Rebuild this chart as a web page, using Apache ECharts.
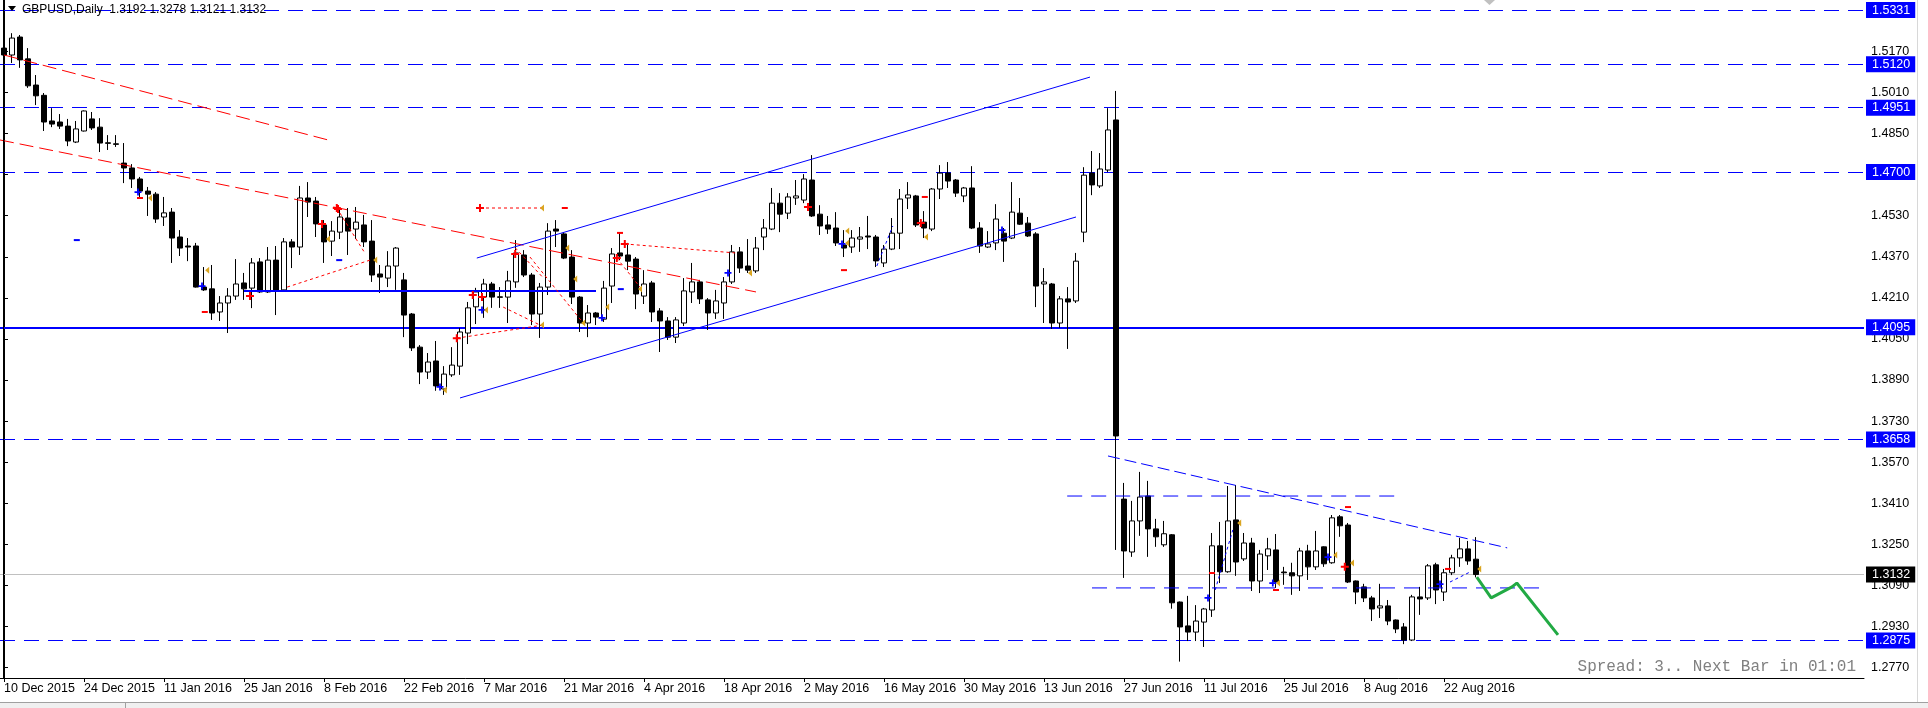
<!DOCTYPE html>
<html><head><meta charset="utf-8">
<script src="https://cdn.jsdelivr.net/npm/echarts@6/dist/echarts.min.js"></script>
<style>html,body{margin:0;padding:0;background:#fff}#c{width:1928px;height:708px}</style>
</head><body><div id="c"></div>
<script>
// ---------------- data ----------------
const symbolName = 'GBPUSD,Daily';
const holidays = ['2015-12-25', '2016-01-01'];
const open = [1.5183,1.5156,1.5226,1.5141,1.5039,1.4999,1.4899,1.4895,1.4879,1.4817,1.4860,1.4907,1.4875,1.4814,1.4810,1.4735,1.4716,1.4673,1.4626,1.4614,
1.4525,1.4544,1.4447,1.4412,1.4412,1.4252,1.4245,1.4155,1.4190,1.4217,1.4268,1.4248,1.4350,1.4233,1.4357,1.4241,1.4428,1.4408,1.4599,1.4587,
1.4494,1.4431,1.4466,1.4521,1.4478,1.4494,1.4431,1.4303,1.4287,1.4334,1.4280,1.4147,1.4018,1.3921,1.3964,1.3855,1.3910,1.3944,1.4073,1.4175,
1.4213,1.4264,1.4214,1.4213,1.4272,1.4377,1.4299,1.4147,1.4252,1.4478,1.4459,1.4369,1.4213,1.4112,1.4151,1.4127,1.4256,1.4385,1.4377,1.4361,
1.4217,1.4268,1.4159,1.4120,1.4057,1.4112,1.4233,1.4272,1.4202,1.4151,1.4190,1.4272,1.4389,1.4334,1.4315,1.4447,1.4478,1.4579,1.4540,1.4599,
1.4591,1.4669,1.4536,1.4494,1.4482,1.4416,1.4408,1.4439,1.4451,1.4447,1.4346,1.4400,1.4462,1.4599,1.4607,1.4505,1.4478,1.4634,1.4696,1.4669,
1.4607,1.4638,1.4482,1.4408,1.4424,1.4462,1.4443,1.4540,1.4501,1.4459,1.4264,1.4264,1.4112,1.4206,1.4198,1.4466,1.4696,1.4646,1.4708,1.4903,
1.3426,1.3220,1.3341,1.3438,1.3310,1.3248,1.3287,1.3025,1.2932,1.2908,1.2947,1.2994,1.3244,1.3143,1.3345,1.3193,1.3255,1.3107,1.3205,1.3228,
1.3142,1.3139,1.3127,1.3224,1.3162,1.3240,1.3178,1.3357,1.3325,1.3107,1.3084,1.3041,1.3002,1.3010,1.2955,1.2928,1.2877,1.3045,1.3041,1.3170,
1.3064,1.3139,1.3197,1.3232,1.3192];
const high = [1.5202,1.5241,1.5234,1.5183,1.5078,1.5008,1.4949,1.4926,1.4907,1.4899,1.4940,1.4934,1.4910,1.4844,1.4844,1.4813,1.4731,1.4681,1.4642,1.4622,
1.4603,1.4560,1.4474,1.4443,1.4424,1.4330,1.4338,1.4217,1.4248,1.4361,1.4307,1.4365,1.4365,1.4408,1.4412,1.4443,1.4439,1.4646,1.4661,1.4603,
1.4513,1.4509,1.4564,1.4560,1.4564,1.4533,1.4513,1.4338,1.4392,1.4408,1.4307,1.4151,1.4026,1.3995,1.4042,1.3944,1.4018,1.4093,1.4194,1.4249,
1.4284,1.4272,1.4252,1.4315,1.4435,1.4396,1.4307,1.4268,1.4501,1.4513,1.4466,1.4396,1.4217,1.4182,1.4155,1.4276,1.4404,1.4462,1.4424,1.4369,
1.4318,1.4276,1.4170,1.4135,1.4135,1.4287,1.4346,1.4280,1.4209,1.4241,1.4291,1.4416,1.4408,1.4439,1.4447,1.4517,1.4638,1.4618,1.4618,1.4669,
1.4692,1.4766,1.4571,1.4529,1.4544,1.4474,1.4474,1.4486,1.4529,1.4455,1.4416,1.4521,1.4634,1.4661,1.4611,1.4548,1.4638,1.4727,1.4739,1.4673,
1.4642,1.4723,1.4505,1.4470,1.4575,1.4482,1.4661,1.4599,1.4525,1.4466,1.4326,1.4268,1.4217,1.4252,1.4385,1.4719,1.4782,1.4774,1.4949,1.5016,
1.3489,1.3419,1.3532,1.3497,1.3349,1.3341,1.3290,1.3027,1.3049,1.3013,1.3002,1.3294,1.3337,1.3477,1.3481,1.3294,1.3275,1.3228,1.3275,1.3290,
1.3162,1.3178,1.3236,1.3248,1.3302,1.3242,1.3364,1.3364,1.3333,1.3109,1.3096,1.3049,1.3096,1.3033,1.2957,1.2943,1.3053,1.3084,1.3173,1.3178,
1.3154,1.3209,1.3275,1.3263,1.3278];
const low = [1.5110,1.5125,1.5106,1.5028,1.4961,1.4860,1.4875,1.4868,1.4801,1.4813,1.4858,1.4864,1.4778,1.4786,1.4798,1.4657,1.4638,1.4599,1.4529,1.4502,
1.4490,1.4346,1.4373,1.4353,1.4250,1.4237,1.4124,1.4120,1.4073,1.4202,1.4202,1.4170,1.4229,1.4229,1.4143,1.4233,1.4326,1.4377,1.4525,1.4447,
1.4346,1.4373,1.4439,1.4377,1.4439,1.4408,1.4272,1.4229,1.4252,1.4241,1.4057,1.4003,1.3874,1.3894,1.3848,1.3832,1.3902,1.3910,1.4030,1.4108,
1.4132,1.4171,1.4171,1.4112,1.4249,1.4291,1.4104,1.4054,1.4221,1.4408,1.4361,1.4186,1.4077,1.4057,1.4104,1.4116,1.4190,1.4357,1.4318,1.4166,
1.4186,1.4116,1.3999,1.4046,1.4034,1.4100,1.4190,1.4186,1.4085,1.4128,1.4128,1.4264,1.4307,1.4307,1.4307,1.4396,1.4474,1.4466,1.4517,1.4572,
1.4579,1.4525,1.4455,1.4459,1.4412,1.4369,1.4385,1.4389,1.4400,1.4330,1.4330,1.4396,1.4400,1.4556,1.4486,1.4443,1.4470,1.4595,1.4638,1.4603,
1.4583,1.4478,1.4385,1.4404,1.4396,1.4350,1.4439,1.4494,1.4447,1.4174,1.4112,1.4089,1.4093,1.4011,1.4190,1.4427,1.4610,1.4638,1.4700,1.3228,
1.3119,1.3201,1.3283,1.3201,1.3240,1.3240,1.2999,1.2793,1.2873,1.2873,1.2850,1.2967,1.3099,1.3139,1.3127,1.3185,1.3068,1.3060,1.3150,1.3080,
1.3092,1.3053,1.3068,1.3111,1.3150,1.3162,1.3174,1.3279,1.3099,1.3017,1.3025,1.2951,1.2963,1.2935,1.2904,1.2861,1.2873,1.2975,1.3033,1.3017,
1.3029,1.3130,1.3162,1.3170,1.3121];
const close = [1.5156,1.5222,1.5137,1.5036,1.4997,1.4895,1.4887,1.4879,1.4821,1.4868,1.4938,1.4872,1.4813,1.4812,1.4808,1.4716,1.4673,1.4626,1.4614,1.4517,
1.4541,1.4443,1.4404,1.4408,1.4252,1.4241,1.4151,1.4190,1.4217,1.4264,1.4245,1.4346,1.4233,1.4357,1.4237,1.4428,1.4408,1.4599,1.4583,1.4498,
1.4428,1.4470,1.4525,1.4470,1.4505,1.4428,1.4299,1.4291,1.4334,1.4404,1.4143,1.4015,1.3921,1.3960,1.3867,1.3913,1.3948,1.4077,1.4171,1.4233,
1.4264,1.4213,1.4212,1.4276,1.4385,1.4299,1.4147,1.4252,1.4470,1.4470,1.4365,1.4213,1.4112,1.4151,1.4135,1.4248,1.4381,1.4373,1.4353,1.4225,
1.4264,1.4155,1.4120,1.4057,1.4124,1.4237,1.4272,1.4206,1.4151,1.4198,1.4272,1.4389,1.4326,1.4318,1.4404,1.4482,1.4579,1.4536,1.4603,1.4607,
1.4673,1.4529,1.4490,1.4478,1.4424,1.4404,1.4443,1.4447,1.4447,1.4354,1.4400,1.4462,1.4595,1.4611,1.4494,1.4482,1.4634,1.4696,1.4665,1.4618,
1.4638,1.4482,1.4412,1.4420,1.4517,1.4431,1.4544,1.4497,1.4451,1.4256,1.4272,1.4112,1.4206,1.4194,1.4353,1.4688,1.4650,1.4712,1.4864,1.3672,
1.3224,1.3341,1.3434,1.3310,1.3279,1.3291,1.3022,1.2928,1.2908,1.2951,1.2998,1.3244,1.3143,1.3341,1.3181,1.3255,1.3107,1.3212,1.3232,1.3103,
1.3139,1.3127,1.3224,1.3162,1.3224,1.3174,1.3353,1.3322,1.3103,1.3064,1.3041,1.2998,1.3010,1.2951,1.2920,1.2877,1.3045,1.3037,1.3166,1.3072,
1.3139,1.3197,1.3232,1.3185,1.3132];

// price scale tick labels
const yTicks = [1.2770,1.2930,1.3090,1.3250,1.3410,1.3570,1.3730,1.3890,1.4050,1.4210,1.4370,1.4530,1.4690,1.4850,1.5010,1.5170,1.5330];
const yLabels = [1.2770,1.2930,1.3090,1.3250,1.3410,1.3570,1.3730,1.3890,1.4050,1.4210,1.4370,1.4530,1.4850,1.5010,1.5170];
// horizontal levels
const dashedLevels = [1.5331, 1.5120, 1.4951, 1.4700, 1.3658, 1.2875];
const solidLevel = 1.4095;
const lastPrice = 1.3132;

// trend lines [barIndex, price]
const redDashA = [[0, 1.5156], [41, 1.4821]];
const redDashB = [[-0.5, 1.4825], [94, 1.4233]];
const redDotLines = [
  [[59.5, 1.4560], [67.4, 1.4560]],
  [[77.6, 1.4420], [91.4, 1.4385]],
  [[35.4, 1.4252], [45.75, 1.4357]],
  [[41.6, 1.4560], [45.1, 1.4385]],
  [[56.6, 1.4053], [67.4, 1.4104]],
  [[63.9, 1.4405], [67.4, 1.4288]],
  [[65.75, 1.4369], [72.4, 1.4112]],
  [[62.4, 1.4174], [67.0, 1.4104]],
  [[76.6, 1.4365], [79.5, 1.4252]]
];
const blueBox = [[30, 1.4237], [74, 1.4237]];
const channelUpper = [[59.1, 1.4365], [135.75, 1.5070]];
const channelLower = [[57, 1.3820], [134, 1.4525]];
const triangleTop = [[138, 1.3594], [187.9, 1.3236]];
const rangeTop = [[132.9, 1.3438], [174.25, 1.3438]];
const rangeBottom = [[136, 1.3080], [192.25, 1.3080]];
const blueDots = [
  [[109.1, 1.4334], [111.1, 1.4490]],
  [[151.4, 1.3072], [153.6, 1.3306]],
  [[180.75, 1.3103], [183.25, 1.3142]]
];
const forecast = [[184.1, 1.3122], [185.9, 1.3041], [188.5, 1.3084], [189.1, 1.3099], [194.25, 1.2897]];

// trade-history markers [barIndex, price]
const redCrosses = [[59.5,1.4560],[41.6,1.4560],[63.9,1.4381],[77.6,1.4420],[76.6,1.4365],[56.6,1.4053],
  [58.6,1.4221],[59.75,1.4213],[30.75,1.4217],[39.75,1.4498],[41.75,1.4556],[100.5,1.4564],[114.6,1.4502],[167.6,1.3162]];
const goldMarks = [[46.4,1.4357],[55.1,1.3851],[60.25,1.4163],[67.25,1.4104],[72.4,1.4112],[75.4,1.4174],[71.4,1.4283],
  [79.5,1.4244],[70.4,1.4404],[67.25,1.4560],[18.25,1.4599],[25.4,1.4318],[40.5,1.4439],[105.4,1.4470],[105.4,1.4424],
  [93.25,1.4307],[115.25,1.4447],[168.5,1.3177],[166.4,1.3208],[159.25,1.3099],[154.4,1.3333],[184.4,1.3154]];
const blueMarks = [[16.75,1.4622],[24.75,1.4256],[54.5,1.3863],[59.75,1.4163],[74.75,1.4132],[90.5,1.4307],[104.75,1.4420],
  [165.5,1.3200],[158.6,1.3099],[150.5,1.3041],[179.5,1.3095],[124.75,1.4474]];
const redDashes = [[70.1,1.4560],[25.1,1.4155],[77,1.4463],[105,1.4318],[115.1,1.4603],[159,1.3072],[151,1.3138],
  [168,1.3395],[180.5,1.3154],[17,1.4599]];
const blueDashes = [[9.1,1.4435],[41.9,1.4357],[77.1,1.4244]];

// ---------------- build ----------------
const MONTHS = ['Jan','Feb','Mar','Apr','May','Jun','Jul','Aug','Sep','Oct','Nov','Dec'];
const TOTAL_SLOTS = 233;
function buildDates(n) {
  const out = [];
  let t = Date.UTC(2015, 11, 10);
  while (out.length < n) {
    const d = new Date(t);
    const wd = d.getUTCDay();
    const iso = d.toISOString().slice(0, 10);
    if (wd !== 0 && wd !== 6 && holidays.indexOf(iso) < 0) {
      out.push(d.getUTCDate() + ' ' + MONTHS[d.getUTCMonth()] + ' ' + d.getUTCFullYear());
    }
    t += 86400000;
  }
  return out;
}
const categories = buildDates(TOTAL_SLOTS);
const candles = open.map((o, i) => [o, close[i], low[i], high[i]]);
const lastIdx = open.length - 1;

function lineSeries(data, color, type, width, z) {
  return {
    type: 'line', xAxisIndex: 1, yAxisIndex: 0, data: data, symbol: 'none',
    silent: true, animation: false, z: z || 5,
    lineStyle: { color: color, type: type, width: width }
  };
}
function markSeries(data, symbol, size, color) {
  return {
    type: 'scatter', xAxisIndex: 1, yAxisIndex: 0, data: data, symbol: symbol, symbolSize: size,
    silent: true, animation: false, z: 7, itemStyle: { color: color, opacity: 1 }
  };
}
const PLUS = 'path://M-1,-4H1V-1H4V1H1V4H-1V1H-4V-1H-1Z';
const TRI_LEFT = 'path://M0,0L4,-3.5L4,3.5Z';

const hiLabel = (bg) => ({
  show: true, position: 'end', distance: 2,
  formatter: (p) => Number(p.value).toFixed(4),
  backgroundColor: bg, color: '#fff', padding: [2, 5, 1, 6],
  fontFamily: 'Liberation Sans', fontSize: 12.5
});

const markData = dashedLevels.map(v => ({
  yAxis: v, lineStyle: { color: '#0000ff', type: [15, 9], width: 1 }, label: hiLabel('#0000ff')
}));
markData.push({ yAxis: solidLevel, lineStyle: { color: '#0000ff', type: 'solid', width: 2 }, label: hiLabel('#0000ff') });
markData.push({ yAxis: lastPrice, lineStyle: { color: '#c0c0c0', type: 'solid', width: 1 }, label: hiLabel('#000000') });

const series = [
  {
    type: 'candlestick', xAxisIndex: 0, yAxisIndex: 0, data: candles, barWidth: 5,
    animation: false, silent: true, z: 3,
    itemStyle: { color: '#ffffff', color0: '#000000', borderColor: '#000000', borderColor0: '#000000', borderWidth: 1 },
    markLine: { symbol: ['none', 'none'], silent: true, animation: false, precision: 4, z: 2, data: markData }
  },
  lineSeries(redDashA, '#ff0000', [14, 6], 1),
  lineSeries(redDashB, '#ff0000', [14, 6], 1),
  lineSeries(blueBox, '#0000ff', 'solid', 2),
  lineSeries(channelUpper, '#0000ff', 'solid', 1),
  lineSeries(channelLower, '#0000ff', 'solid', 1),
  lineSeries(triangleTop, '#0000ff', [12, 5], 1),
  lineSeries(rangeTop, '#0000ff', [15, 9], 1),
  lineSeries(rangeBottom, '#0000ff', [15, 9], 1),
  lineSeries(forecast, '#22aa44', 'solid', 3, 6)
];
redDotLines.forEach(l => series.push(lineSeries(l, '#ff0000', [3, 3], 1)));
blueDots.forEach(l => series.push(lineSeries(l, '#0000ff', [3, 3], 1)));
series.push(markSeries(redCrosses, PLUS, 8, '#ff0000'));
series.push(markSeries(blueMarks, PLUS, 7, '#0000ff'));
series.push(markSeries(goldMarks, TRI_LEFT, [4, 7], '#daa520'));
series.push(markSeries(redDashes, 'rect', [6, 2], '#ff0000'));
series.push(markSeries(blueDashes, 'rect', [6, 2], '#0000ff'));

const titleText = symbolName + '  ' + [open[lastIdx], high[lastIdx], low[lastIdx], close[lastIdx]].map(v => v.toFixed(4)).join(' ');

const option = {
  animation: false,
  backgroundColor: '#ffffff',
  grid: { left: 0, right: 64, top: 0, bottom: 30, containLabel: false },
  xAxis: [
    {
      type: 'category', data: categories, boundaryGap: true,
      axisLine: { show: true, lineStyle: { color: '#000', width: 1 } },
      axisTick: { show: true, alignWithLabel: true, length: 4, inside: false,
        interval: (i) => i % 10 === 0 && i <= 180, lineStyle: { color: '#000' } },
      axisLabel: { show: true, interval: (i) => i % 10 === 0 && i <= 180, align: 'left', margin: 4,
        color: '#000', fontFamily: 'Liberation Sans', fontSize: 12.5 },
      splitLine: { show: false }
    },
    { type: 'value', min: -0.5, max: TOTAL_SLOTS - 0.5, show: false }
  ],
  yAxis: {
    type: 'value', position: 'right', min: 1.27291, max: 1.53703, scale: true,
    axisLine: { show: true, lineStyle: { color: '#000', width: 1 } },
    axisTick: { show: true, length: 4, customValues: yTicks, lineStyle: { color: '#000' } },
    axisLabel: { show: true, customValues: yLabels, margin: 7, color: '#000',
      fontFamily: 'Liberation Sans', fontSize: 12.5, formatter: (v) => Number(v).toFixed(4) },
    splitLine: { show: false }
  },
  series: series,
  graphic: [
    { type: 'line', shape: { x1: 3.5, y1: 0, x2: 3.5, y2: 678 }, style: { stroke: '#000', lineWidth: 1 }, z: 10 },
    { type: 'polygon', shape: { points: [[8, 6], [16, 6], [12, 11]] }, style: { fill: '#000' }, z: 10 },
    { type: 'text', x: 22, y: 10, style: { text: titleText, font: '12px "Liberation Sans"', fill: '#000', verticalAlign: 'middle' }, z: 10 },
    { type: 'text', x: 1856, y: 667, style: { text: 'Spread: 3.. Next Bar in 01:01', font: '16px "Liberation Mono"', fill: '#808080', align: 'right', verticalAlign: 'middle' }, z: 10 },
    { type: 'polygon', shape: { points: [[1484, 0], [1495, 0], [1489.5, 5]] }, style: { fill: '#c0c0c0' }, z: 10 },
    { type: 'line', shape: { x1: 1917.5, y1: 0, x2: 1917.5, y2: 702 }, style: { stroke: '#d8d8d8', lineWidth: 1 }, z: 10 },
    { type: 'rect', shape: { x: 0, y: 703, width: 1928, height: 5 }, style: { fill: '#f0f0f0' }, z: 9 },
    { type: 'line', shape: { x1: 0, y1: 702.5, x2: 1928, y2: 702.5 }, style: { stroke: '#a0a0a0', lineWidth: 1 }, z: 10 },
    { type: 'line', shape: { x1: 125.5, y1: 703, x2: 125.5, y2: 708 }, style: { stroke: '#a0a0a0', lineWidth: 1 }, z: 10 }
  ]
};
const chart = echarts.init(document.getElementById('c'));
chart.setOption(option);
</script></body></html>
